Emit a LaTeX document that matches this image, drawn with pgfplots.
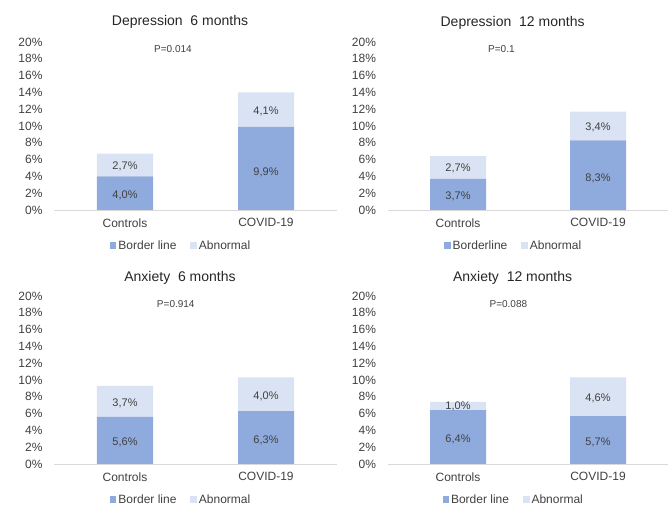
\documentclass[border=0pt]{standalone}
\usepackage{fontspec}
\setmainfont{Liberation Sans}
\usepackage{pgfplots}
\pgfplotsset{compat=1.18}
\definecolor{bord}{HTML}{8FAADC}
\definecolor{abn}{HTML}{DAE3F3}
\definecolor{txt}{HTML}{404040}
\definecolor{axl}{HTML}{D9D9D9}
\makeatletter
\pgfplotsset{
  centered nodes/.style={
    nodes near coords={\pgfmathprintnumber[fixed,fixed zerofill,precision=1,use comma]{\pgfplotspointmeta}\%},
    every node near coord/.append style={
      /pgfplots/calc offset/.code={%
        \pgfkeys{/pgf/fpu=true,/pgf/fpu/output format=fixed}%
        \pgfmathsetmacro\myoffset{(\pgfplotspointmeta*10^\pgfplotspointmetarangeexponent)/2*\pgfplots@y@veclength}%
        \pgfkeys{/pgf/fpu=false}%
      },
      /pgfplots/calc offset,
      yshift=-\myoffset,
      font=\fontsize{11}{13}\selectfont, text=txt
    },
    nodes near coords align=center,
  },
  panel/.style={
    scale only axis,
    ybar stacked,
    bar width=56pt,
    xmin=-0.5, xmax=1.5,
    ymin=0, ymax=20,
    xtick={0,1},
    xticklabels={Controls,COVID-19},
    ytick={0,2,...,20},
    yticklabel={\pgfmathprintnumber{\tick}\%},
    /pgf/number format/assume math mode=true,
    axis x line=bottom,
    axis y line=left,
    axis line style={-},
    x axis line style={draw=axl},
    y axis line style={draw=none},
    major tick length=0pt,
    tick style={draw=none},
    ticklabel style={font=\fontsize{12}{14}\selectfont, text=txt},
    xticklabel style={yshift=-5pt},
    yticklabel style={xshift=-8.5pt},
    title style={font=\fontsize{14}{16}\selectfont, text=black!85, at={(0.445,1)}, anchor=center},
    legend style={at={(0.449,0)}, anchor=center, yshift=-36pt, draw=none, fill=none,
      font=\fontsize{12}{14}\selectfont, text=txt, legend columns=2,
      /tikz/every even column/.append style={column sep=12pt}},
    legend image code/.code={\fill[##1,draw=none] (0pt,-3pt) rectangle (6.5pt,3.5pt);},
    point meta=explicit,
    centered nodes,
  }
}
\makeatother
\begin{document}
\begin{tikzpicture}[x=1pt,y=1pt]
\path[use as bounding box] (0,0) rectangle (672,505);
% Panel 1
\begin{axis}[panel, at={(54.5pt,295pt)}, anchor=south west, width=282pt, height=168pt,
  title={Depression\ \ 6 months}, title style={yshift=14pt}]
\addplot[fill=bord, draw=none] coordinates {(0,4.0) [4.0] (1,9.9) [9.9]};
\addplot[fill=abn, draw=none] coordinates {(0,2.7) [2.7] (1,4.1) [4.1]};
\legend{Border line, Abnormal}
\node[font=\fontsize{10}{12}\selectfont, text=txt] at (axis cs:0.34,19.2) {P=0.014};
\end{axis}
% Panel 2
\begin{axis}[panel, at={(388pt,295pt)}, anchor=south west, width=280pt, height=168pt,
  title={Depression\ \ 12 months}, title style={yshift=13pt}]
\addplot[fill=bord, draw=none] coordinates {(0,3.7) [3.7] (1,8.3) [8.3]};
\addplot[fill=abn, draw=none] coordinates {(0,2.7) [2.7] (1,3.4) [3.4]};
\legend{Borderline, Abnormal}
\node[font=\fontsize{10}{12}\selectfont, text=txt] at (axis cs:0.31,19.2) {P=0.1};
\end{axis}
% Panel 3
\begin{axis}[panel, at={(54.5pt,41pt)}, anchor=south west, width=282pt, height=168pt,
  title={Anxiety\ \ 6 months}, title style={yshift=12pt}]
\addplot[fill=bord, draw=none] coordinates {(0,5.6) [5.6] (1,6.3) [6.3]};
\addplot[fill=abn, draw=none] coordinates {(0,3.7) [3.7] (1,4.0) [4.0]};
\legend{Border line, Abnormal}
\node[font=\fontsize{10}{12}\selectfont, text=txt] at (axis cs:0.36,19.0) {P=0.914};
\end{axis}
% Panel 4
\begin{axis}[panel, at={(388pt,41pt)}, anchor=south west, width=280pt, height=168pt,
  title={Anxiety\ \ 12 months}, title style={yshift=12pt}]
\addplot[fill=bord, draw=none] coordinates {(0,6.4) [6.4] (1,5.7) [5.7]};
\addplot[fill=abn, draw=none] coordinates {(0,1.0) [1.0] (1,4.6) [4.6]};
\legend{Border line, Abnormal}
\node[font=\fontsize{10}{12}\selectfont, text=txt] at (axis cs:0.36,19.0) {P=0.088};
\end{axis}
\end{tikzpicture}
\end{document}
